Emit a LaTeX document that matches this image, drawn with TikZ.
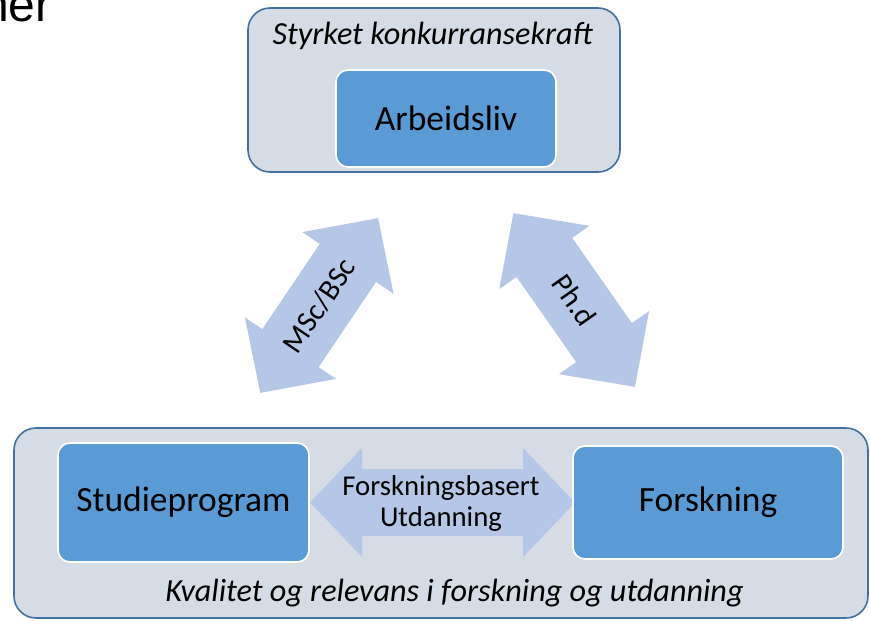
\documentclass[tikz,border=0pt]{standalone}
\usepackage{fontspec}
\setmainfont{Carlito}
\newfontfamily\arialfont{Liberation Sans}
\definecolor{outerfill}{HTML}{D6DCE5}
\definecolor{outerline}{HTML}{41719C}
\definecolor{boxfill}{HTML}{5B9BD5}
\definecolor{arrowfill}{HTML}{B4C7E7}
\begin{document}
\begin{tikzpicture}[x=1pt,y=-1pt,
  outerbox/.style={draw=outerline, line width=1.6pt, fill=outerfill, rounded corners=22pt, inner sep=0pt},
  bluebox/.style={draw=white, line width=1.6pt, fill=boxfill, rounded corners=12pt, inner sep=0pt, font=\fontsize{35.5}{42}\selectfont},
  blockarrow/.style={fill=arrowfill},
  lbl/.style={font=\fontsize{28.7}{31}\selectfont, inner sep=0pt, align=center},
  rlbl/.style={font=\fontsize{30}{34}\selectfont, inner sep=0pt},
  ital/.style={font=\fontsize{32.2}{38}\selectfont\itshape, inner sep=0pt}]
\useasboundingbox (0,0) rectangle (870,621);
\clip (0,0) rectangle (870,621);
\fill[white] (0,0) rectangle (870,621);

% cut-off title text
\node[anchor=base west, inner sep=0pt, font=\arialfont\fontsize{48}{56}\selectfont] (title) at (-18,21) {ner};

% outer boxes
\node[outerbox, minimum width=372pt, minimum height=164pt] (top) at (434,90) {};
\node[outerbox, minimum width=854pt, minimum height=190pt] (bottom) at (441,523) {};

% block arrows
\begin{scope}[shift={(319.2,305.5)}, rotate=56]
  \fill[blockarrow] (-105.4,0) -- (-51.4,55) -- (-51.4,34) -- (51.4,34) -- (51.4,55) -- (105.4,0)
    -- (51.4,-55) -- (51.4,-34) -- (-51.4,-34) -- (-51.4,-55) -- cycle;
\end{scope}
\begin{scope}[shift={(574.2,300)}, rotate=-55]
  \fill[blockarrow] (-106,0) -- (-52,55) -- (-52,34) -- (52,34) -- (52,55) -- (106,0)
    -- (52,-55) -- (52,-34) -- (-52,-34) -- (-52,-55) -- cycle;
\end{scope}
\begin{scope}[shift={(442.5,502.5)}]
  \fill[blockarrow] (-132.5,0) -- (-80.5,54.5) -- (-80.5,33.5) -- (80.5,33.5) -- (80.5,54.5) -- (132.5,0)
    -- (80.5,-54.5) -- (80.5,-33.5) -- (-80.5,-33.5) -- (-80.5,-54.5) -- cycle;
\end{scope}

% blue boxes
\node[bluebox, minimum width=220pt, minimum height=97pt] (arb) at (446,118.5) {Arbeidsliv};
\node[bluebox, minimum width=251pt, minimum height=119pt] (stud) at (183.5,502.5) {Studieprogram};
\node[bluebox, minimum width=270pt, minimum height=113pt] (fors) at (708,502.5) {Forskning};

% labels
\node[ital, anchor=base] (toplbl) at (432.5,44) {Styrket konkurransekraft};
\node[ital, anchor=base] (botlbl) at (454.5,601) {Kvalitet og relevans i forskning og utdanning};
\node[lbl] (fbu) at (441,503) {Forskningsbasert\\Utdanning};
\node[rlbl, rotate=56] (msc) at (319.2,305.5) {MSc/BSc};
\node[rlbl, rotate=-55] (phd) at (574.2,300) {Ph.d};
\end{tikzpicture}
\end{document}
